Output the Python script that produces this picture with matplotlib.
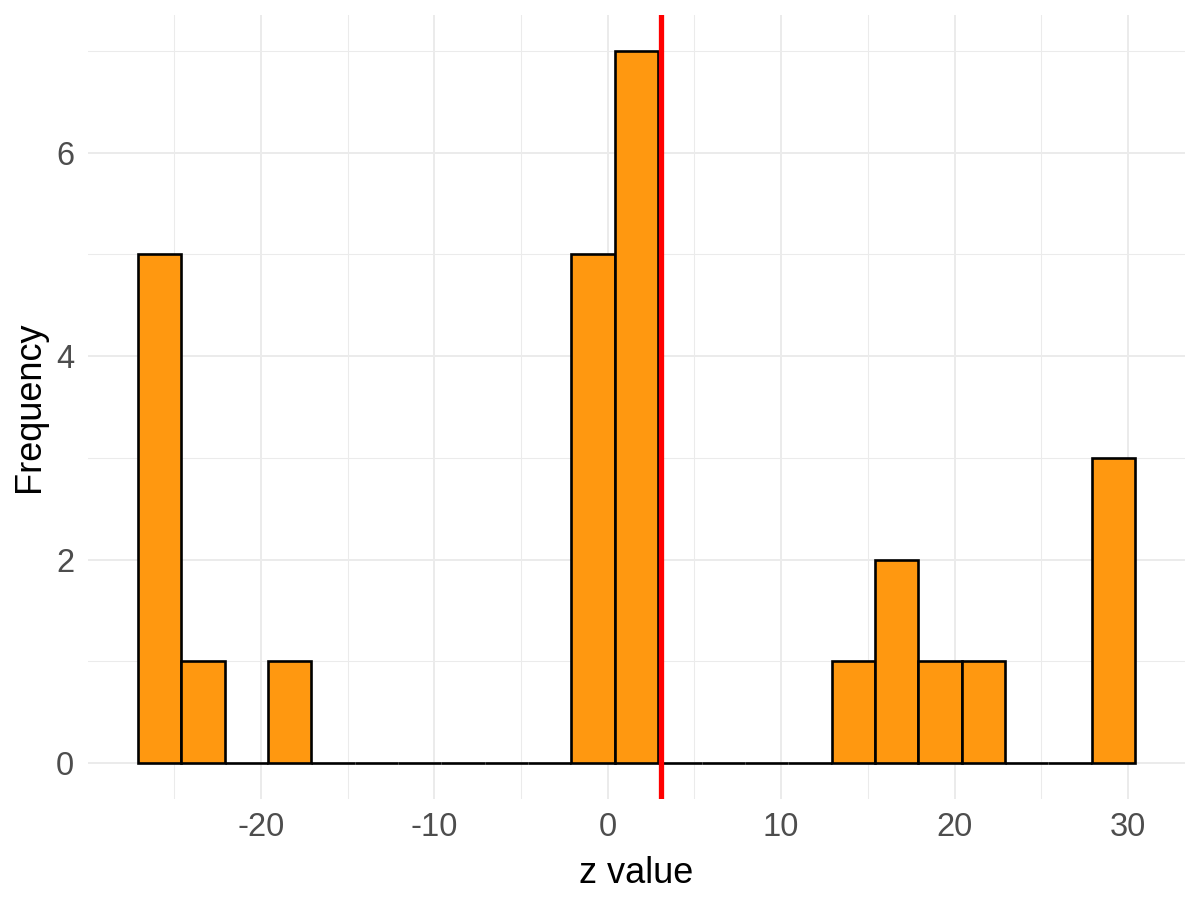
import matplotlib
matplotlib.use("Agg")
import matplotlib.pyplot as plt
import numpy as np

# Data
bin_start = -27.09
bin_width = 2.5
counts = [5, 1, 0, 1, 0, 0, 0, 0, 0, 0, 5, 7, 0, 0, 0, 0, 1, 2, 1, 1, 0, 0, 3]
vline_x = 3.05
x_ticks = [-20, -10, 0, 10, 20, 30]
x_minor = [-25, -15, -5, 5, 15, 25]
y_ticks = [0, 2, 4, 6]
y_minor = [1, 3, 5, 7]

plt.rcParams['font.family'] = ['Liberation Sans', 'DejaVu Sans']
plt.rcParams['axes.unicode_minus'] = False

fig = plt.figure(figsize=(12, 9), dpi=100)
ax = fig.add_axes([0.0733, 0.1127, 0.9142, 0.8701])

lefts = bin_start + bin_width * np.arange(len(counts))
ax.bar(lefts, counts, width=bin_width, align='edge', color='#FF9810',
       edgecolor='black', linewidth=1.9, zorder=3)
ax.axvline(vline_x, color='#FF0000', linewidth=3.8, zorder=4)

xmin, xmax = lefts[0], lefts[-1] + bin_width
xr = xmax - xmin
ax.set_xlim(xmin - 0.05 * xr, xmax + 0.05 * xr)
ymax = max(counts)
ax.set_ylim(-0.05 * ymax, ymax * 1.05)

ax.set_xticks(x_ticks)
ax.set_xticks(x_minor, minor=True)
ax.set_yticks(y_ticks)
ax.set_yticks(y_minor, minor=True)
ax.grid(True, which='major', color='#EBEBEB', linewidth=1.4, zorder=0)
ax.grid(True, which='minor', color='#EBEBEB', linewidth=0.75, zorder=0)
ax.set_axisbelow(True)
for s in ax.spines.values():
    s.set_visible(False)
ax.tick_params(which='both', length=0, labelsize=23.5, colors='#4D4D4D', pad=10)
ax.tick_params(which='minor', labelbottom=False, labelleft=False)

ax.set_xlabel('z value', fontsize=26, color='black', labelpad=9)
ax.set_ylabel('Frequency', fontsize=26, color='black', labelpad=6.5)

fig.savefig('out.png', dpi=100)
